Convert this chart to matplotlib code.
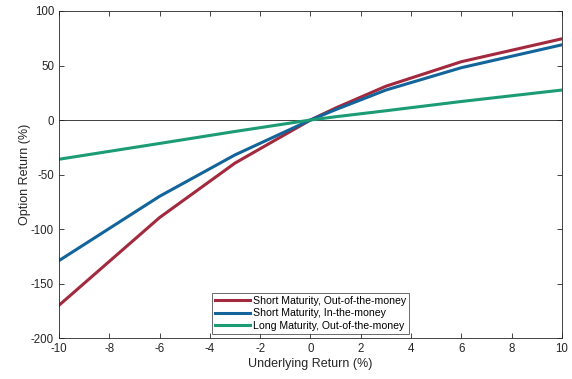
import numpy as np
import matplotlib.pyplot as plt

plt.rcParams['font.family'] = ['Liberation Sans', 'DejaVu Sans']
plt.rcParams['axes.unicode_minus'] = False

# underlying return (%) at the points
x_pts = [-10, -6, -3, 0, 1, 3, 6, 10]

# option returns (%)
short_otm = [-170, -89.5, -39.5, 0, 11, 31, 53.5, 74.5]
short_itm = [-129, -70, -32, 0, 9.5, 27.5, 48, 69]
long_otm = [-36, -21.5, -10.5, 0, 3, 8.5, 17, 27.5]

labels = ['Short Maturity, Out-of-the-money',
          'Short Maturity, In-the-money',
          'Long Maturity, Out-of-the-money']
colors = ['#A2293E', '#12649A', '#1C9C74']

fig = plt.figure(figsize=(5.72, 3.79), dpi=100)
ax = fig.add_axes([0.103, 0.108, 0.8795, 0.863])

ax.axhline(0, color='#404040', lw=0.7, zorder=1)
for y, lab, c in zip([short_otm, short_itm, long_otm], labels, colors):
    ax.plot(x_pts, y, color=c, lw=2.2, label=lab, zorder=2)

ax.set_xlim(-10, 10)
ax.set_ylim(-200, 100)
ax.set_xticks(np.arange(-10, 11, 2))
ax.set_yticks(np.arange(-200, 101, 50))
ax.tick_params(direction='in', top=True, right=True, labelsize=8.3,
               colors='#262626', length=3.5, width=0.6)
for s in ax.spines.values():
    s.set_color('#262626')
    s.set_linewidth(0.6)

ax.set_xlabel('Underlying Return (%)', fontsize=9, color='#262626', labelpad=2)
ax.set_ylabel('Option Return (%)', fontsize=9, color='#262626', labelpad=0)

leg = ax.legend(loc='lower center', bbox_to_anchor=(0.5, 0.012), fontsize=7.6,
                frameon=True, fancybox=False, handlelength=3.3,
                handletextpad=0.3, borderpad=0.3, labelspacing=0.25,
                borderaxespad=0)
leg.get_frame().set_edgecolor('#262626')
leg.get_frame().set_linewidth(0.6)

fig.savefig('out.png', dpi=100)
